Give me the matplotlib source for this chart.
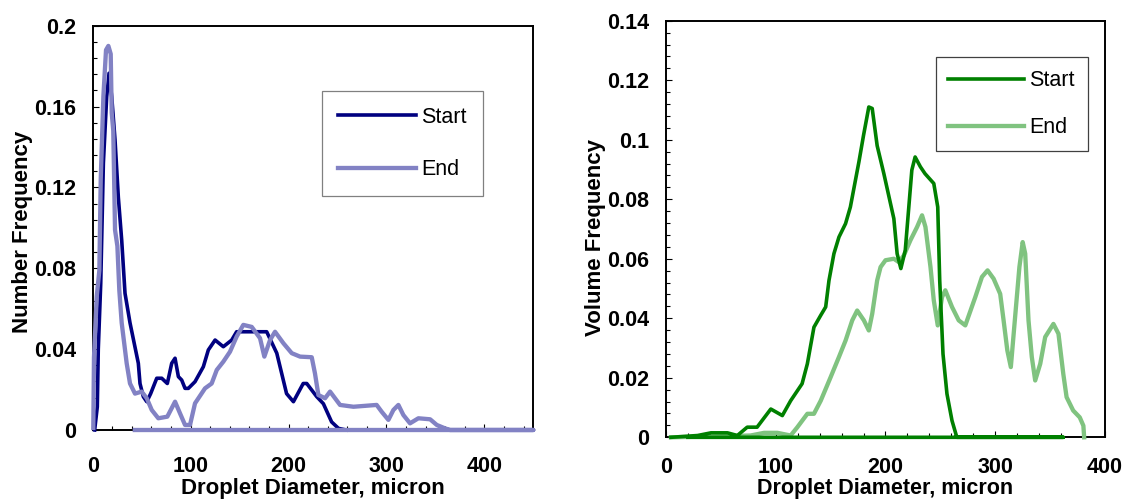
import matplotlib
matplotlib.use("Agg")
import matplotlib.pyplot as plt
from matplotlib.ticker import MultipleLocator, FuncFormatter

plt.rcParams['font.family'] = ['Liberation Sans', 'DejaVu Sans']

# number frequency distribution, start of run
num_start_d = [2, 4.7, 5.7, 8.2, 10.9, 14.3, 16.7, 19.4, 22.8, 26.2, 29.6, 33, 38.1,
               43.2, 46.6, 48.3, 51.7, 55.2, 59.2, 65.4, 70.5, 76.2, 80.7, 84.1, 87.5,
               90.9, 94.3, 97.7, 104.5, 113, 118.1, 125, 133.4, 142, 147, 160, 177.7,
               188, 198, 205, 215, 218.6, 228.8, 235.6, 244, 251, 259]
num_start_f = [0, 0.0115, 0.04, 0.0726, 0.132, 0.165, 0.1765, 0.165, 0.1435, 0.115,
               0.094, 0.0676, 0.053, 0.041, 0.033, 0.023, 0.0165, 0.014, 0.018, 0.0256,
               0.0256, 0.023, 0.033, 0.0355, 0.0264, 0.0247, 0.0206, 0.0206, 0.0239,
               0.0313, 0.0396, 0.0445, 0.0412, 0.0445, 0.0486, 0.0486, 0.0486, 0.038,
               0.018, 0.014, 0.023, 0.023, 0.0165, 0.013, 0.004, 0.0008, 0]

# number frequency distribution, end of run
num_end_d = [0.6, 1.3, 4.1, 6.8, 8.2, 10.9, 13.6, 16, 18.4, 19.4, 21, 22.8, 25.2, 27.2,
             29.6, 34.7, 38.1, 43.2, 50, 55.2, 60.3, 67, 76.2, 84.1, 89.2, 94.3, 99.4,
             104.5, 114.7, 121.5, 126.7, 133.4, 140.2, 147, 153.8, 162.4, 170.9, 175.3,
             181.1, 186.2, 194.8, 203.3, 211.8, 223.7, 227, 230.5, 237.3, 242.4, 247.5,
             252.6, 266.3, 290, 295.2, 302, 307.1, 312.2, 317.3, 324.1, 332.6, 344.6,
             351.4, 359.9, 365, 450, 43]
num_end_f = [0.001, 0.036, 0.066, 0.079, 0.124, 0.165, 0.188, 0.19, 0.186, 0.157, 0.148,
             0.099, 0.091, 0.069, 0.053, 0.033, 0.023, 0.018, 0.019, 0.0157, 0.0099,
             0.0058, 0.0066, 0.014, 0.0082, 0.0025, 0.0025, 0.0132, 0.0206, 0.023,
             0.0297, 0.0338, 0.0387, 0.0462, 0.052, 0.051, 0.0454, 0.0363, 0.0445,
             0.0486, 0.0429, 0.038, 0.0363, 0.036, 0.028, 0.0173, 0.0157, 0.019,
             0.0157, 0.0124, 0.0115, 0.0124, 0.009, 0.005, 0.0099, 0.0124, 0.0074,
             0.0033, 0.0058, 0.0053, 0.0025, 0.0008, 0, 0, 0]

# volume frequency distribution, start of run
vol_start_d = [4.5, 28.8, 41, 56, 65, 74, 83, 95.5, 106, 113.6, 124, 128.8, 134.8, 141,
               145.5, 148.5, 153, 157.6, 163.6, 168, 175.8, 180, 184.8, 187.9, 192.4,
               198.5, 207.6, 210.6, 214, 218, 224, 227, 231.8, 236, 244, 247.6, 249.4,
               252.4, 256, 260.6, 265, 362, 20]
vol_start_f = [0, 0.0006, 0.0015, 0.0015, 0.0006, 0.0034, 0.0034, 0.0095, 0.0073, 0.0123,
               0.018, 0.0247, 0.037, 0.041, 0.0438, 0.0527, 0.0617, 0.0673, 0.0718,
               0.0774, 0.0926, 0.1015, 0.111, 0.1105, 0.098, 0.0886, 0.0735, 0.0617,
               0.0567, 0.0628, 0.0898, 0.0942, 0.0909, 0.0886, 0.0853, 0.0774, 0.0527,
               0.028, 0.0146, 0.0056, 0, 0, 0]

# volume frequency distribution, end of run
vol_end_d = [4.5, 77, 89.4, 101.5, 113.6, 119.7, 128.8, 134.8, 141, 150, 157.6, 163.6,
             169.7, 174.2, 180.3, 184.8, 187.9, 192.4, 195.5, 200, 207.6, 212, 216.7,
             222.7, 228.8, 233.3, 236.4, 241, 244, 247.6, 251.5, 254.5, 260.6, 266.7,
             272.7, 281.8, 287.9, 293, 298.5, 304.5, 307.6, 311, 314.2, 317.3, 322, 325,
             327.3, 330.3, 333.3, 336.4, 341, 345.5, 353, 357.6, 362, 365, 371, 377,
             380.3, 381]
vol_end_f = [0, 0.0006, 0.0015, 0.0015, 0.0006, 0.0034, 0.0079, 0.0079, 0.0123, 0.0202,
             0.027, 0.0325, 0.0393, 0.0426, 0.0393, 0.0359, 0.0415, 0.0527, 0.0572,
             0.0595, 0.06, 0.0589, 0.0611, 0.0662, 0.0707, 0.0746, 0.0707, 0.0572, 0.046,
             0.0376, 0.0471, 0.0494, 0.0438, 0.0393, 0.0376, 0.0471, 0.0539, 0.0561,
             0.0533, 0.0482, 0.0393, 0.0292, 0.0236, 0.037, 0.0572, 0.0656, 0.0617,
             0.0393, 0.027, 0.0191, 0.0247, 0.0337, 0.0381, 0.0348, 0.0213, 0.0135,
             0.009, 0.0067, 0.0039, 0]

TICK_FS = 15.5
LABEL_FS = 16


def fmt(v, pos):
    return f"{round(v, 4):g}"


def style_axes(ax, xmax, ymax, ymajor, yminor, xpad):
    ax.set_xlim(0, xmax)
    ax.set_ylim(0, ymax)
    ax.xaxis.set_major_locator(MultipleLocator(100))
    ax.xaxis.set_minor_locator(MultipleLocator(20))
    ax.yaxis.set_major_locator(MultipleLocator(ymajor))
    ax.yaxis.set_minor_locator(MultipleLocator(yminor))
    ax.yaxis.set_major_formatter(FuncFormatter(fmt))
    ax.tick_params(which='both', direction='in', top=False, right=False, width=0.8)
    ax.tick_params(which='major', length=4)
    ax.tick_params(which='minor', length=3)
    ax.tick_params(axis='x', which='major', pad=xpad, labelsize=TICK_FS)
    ax.tick_params(axis='y', which='major', pad=12, labelsize=TICK_FS)
    for lab in ax.get_xticklabels() + ax.get_yticklabels():
        lab.set_fontweight('bold')
    for sp in ax.spines.values():
        sp.set_linewidth(1.4)
        sp.set_color('black')


fig = plt.figure(figsize=(11.26, 4.99), dpi=100)

# left: number frequency
ax1 = fig.add_axes([0.08233, 0.13828, 0.3913, 0.8102])
ax1.plot(num_start_d, num_start_f, color='#000080', lw=2.6, label='Start',
         zorder=3, clip_on=False, solid_joinstyle='round')
ax1.plot(num_end_d, num_end_f, color='#8282c4', lw=3.1, label='End',
         zorder=4, clip_on=False, solid_joinstyle='round')
style_axes(ax1, 450, 0.2, 0.04, 0.008, 18.5)
ax1.set_xlabel('Droplet Diameter, micron', fontsize=LABEL_FS, fontweight='bold')
ax1.set_ylabel('Number Frequency', fontsize=LABEL_FS, fontweight='bold')
ax1.xaxis.set_label_coords(0.5, -0.158)
ax1.xaxis.label.set_verticalalignment('baseline')
ax1.yaxis.set_label_coords(-0.1593, 0.49)
ax1.yaxis.label.set_verticalalignment('center')
leg1 = ax1.legend(loc='upper left', bbox_to_anchor=(0.521, 0.839), borderaxespad=0,
                  fontsize=TICK_FS, handlelength=3.6, handletextpad=0.25,
                  labelspacing=1.45, borderpad=0.75, fancybox=False, framealpha=1)
leg1.get_frame().set_edgecolor('#808080')
leg1.get_frame().set_linewidth(0.9)

# right: volume frequency
ax2 = fig.add_axes([0.59147, 0.12365, 0.38988, 0.83487])
ax2.plot(vol_end_d, vol_end_f, color='#80c380', lw=3.1, label='End',
         zorder=3, clip_on=False, solid_joinstyle='round')
ax2.plot(vol_start_d, vol_start_f, color='#008000', lw=2.6, label='Start',
         zorder=4, clip_on=False, solid_joinstyle='round')
style_axes(ax2, 400, 0.14, 0.02, 0.004, 14.5)
ax2.set_xlabel('Droplet Diameter, micron', fontsize=15.5, fontweight='bold')
ax2.set_ylabel('Volume Frequency', fontsize=LABEL_FS, fontweight='bold')
ax2.xaxis.set_label_coords(0.5, -0.137)
ax2.xaxis.label.set_verticalalignment('baseline')
ax2.yaxis.set_label_coords(-0.1617, 0.48)
ax2.yaxis.label.set_verticalalignment('center')
h, l = ax2.get_legend_handles_labels()
leg2 = ax2.legend(h[::-1], l[::-1], loc='upper left', bbox_to_anchor=(0.614, 0.912),
                  borderaxespad=0, fontsize=TICK_FS, handlelength=3.5,
                  handletextpad=0.25, labelspacing=1.2, borderpad=0.6,
                  fancybox=False, framealpha=1)
leg2.get_frame().set_edgecolor('#404040')
leg2.get_frame().set_linewidth(0.9)

fig.savefig('out.png', dpi=100, facecolor='white')
